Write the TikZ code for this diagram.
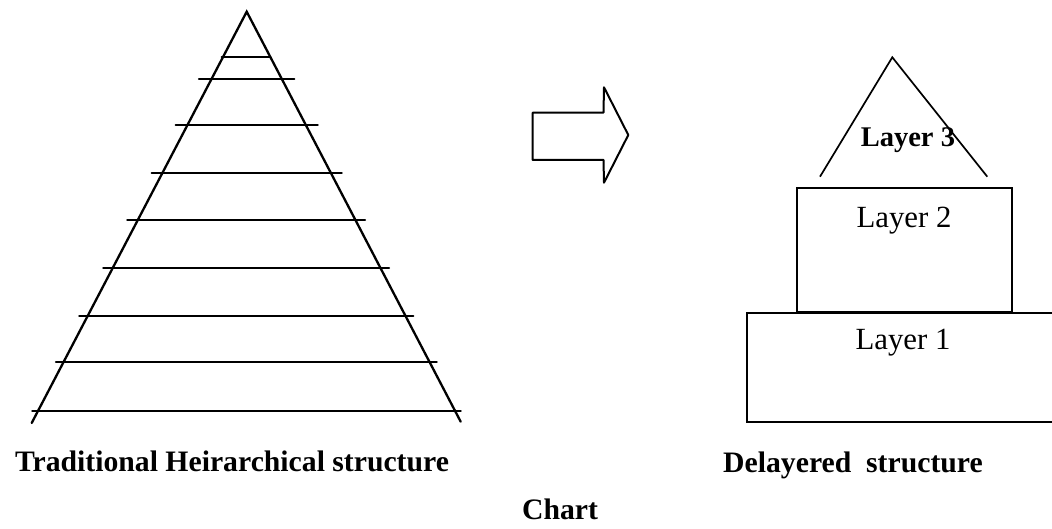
\documentclass[tikz,border=0pt]{standalone}
\usepackage{fontspec}
\setmainfont{Liberation Serif}
\begin{document}
\begin{tikzpicture}[x=1bp,y=-1bp,
  heavy/.style={line width=2.3bp, line cap=round, line join=miter},
  thin/.style={line width=1.7bp, line join=miter},
  caption/.style={anchor=base, inner sep=0pt, font=\fontsize{29.7bp}{30bp}\selectfont\bfseries},
  layer/.style={anchor=base, inner sep=0pt, font=\fontsize{30.8bp}{31bp}\selectfont},
  toplayer/.style={anchor=base, inner sep=0pt, font=\fontsize{28.5bp}{29bp}\selectfont\bfseries}]
\useasboundingbox (0,0) rectangle (1052,529);

% ---- traditional pyramid ----
\coordinate (apex) at (246.7,11.7);
\coordinate (pl) at (31.7,423);
\coordinate (pr) at (460.7,421.7);
\draw[heavy] (pl) -- (apex) -- (pr);
\foreach \y/\xl/\xr [count=\i] in {
  56.7/221.7/270,
  79.3/199/294.3,
  125/175.7/317.7,
  173.3/151.7/341.7,
  220/127.3/365,
  268.3/103.3/389,
  315.7/79.3/413.3,
  361.7/56/436.7,
  410.7/32.3/460.7}{
  \coordinate (tl\i) at (\xl,\y);
  \coordinate (tr\i) at (\xr,\y);
  \draw[heavy] (tl\i) -- (tr\i);
}

% ---- transition arrow ----
\coordinate (a1) at (532.7,112.7);
\coordinate (a2) at (603.5,112.7);
\coordinate (a3) at (604,87.3);
\coordinate (a4) at (628.3,135);
\coordinate (a5) at (604,182.7);
\coordinate (a6) at (603.5,160);
\coordinate (a7) at (532.7,160);
\draw[thin, line width=2bp, line join=round] (a1) -- (a2) -- (a3) -- (a4) -- (a5) -- (a6) -- (a7) -- cycle;

% ---- delayered structure ----
\coordinate (t3l) at (820,176.7);
\coordinate (t3a) at (892.3,57.3);
\coordinate (t3r) at (987.3,176.7);
\draw[thin] (t3l) -- (t3a) -- (t3r);

\coordinate (b2a) at (796.7,188.3);
\coordinate (b2b) at (1011.7,311.7);
\draw[thin] (b2a) rectangle (b2b);

\coordinate (b1tl) at (747.3,313.3);
\coordinate (b1bl) at (747.3,421.7);
\draw[thin] (1052,313.3) -- (b1tl) -- (b1bl) -- (1052,421.7);

\node[toplayer] (l3) at (907.9,146.7) {Layer 3};
\node[layer] (l2) at (904,228) {Layer 2};
\node[layer] (l1) at (903,350) {Layer 1};

% ---- captions ----
\node[caption] (cap1) at (232,471) {Traditional Heirarchical structure};
\node[caption] (cap2) at (853,472) {Delayered\ \ structure};
\node[caption] (cap3) at (560,519) {Chart};
\end{tikzpicture}
\end{document}
